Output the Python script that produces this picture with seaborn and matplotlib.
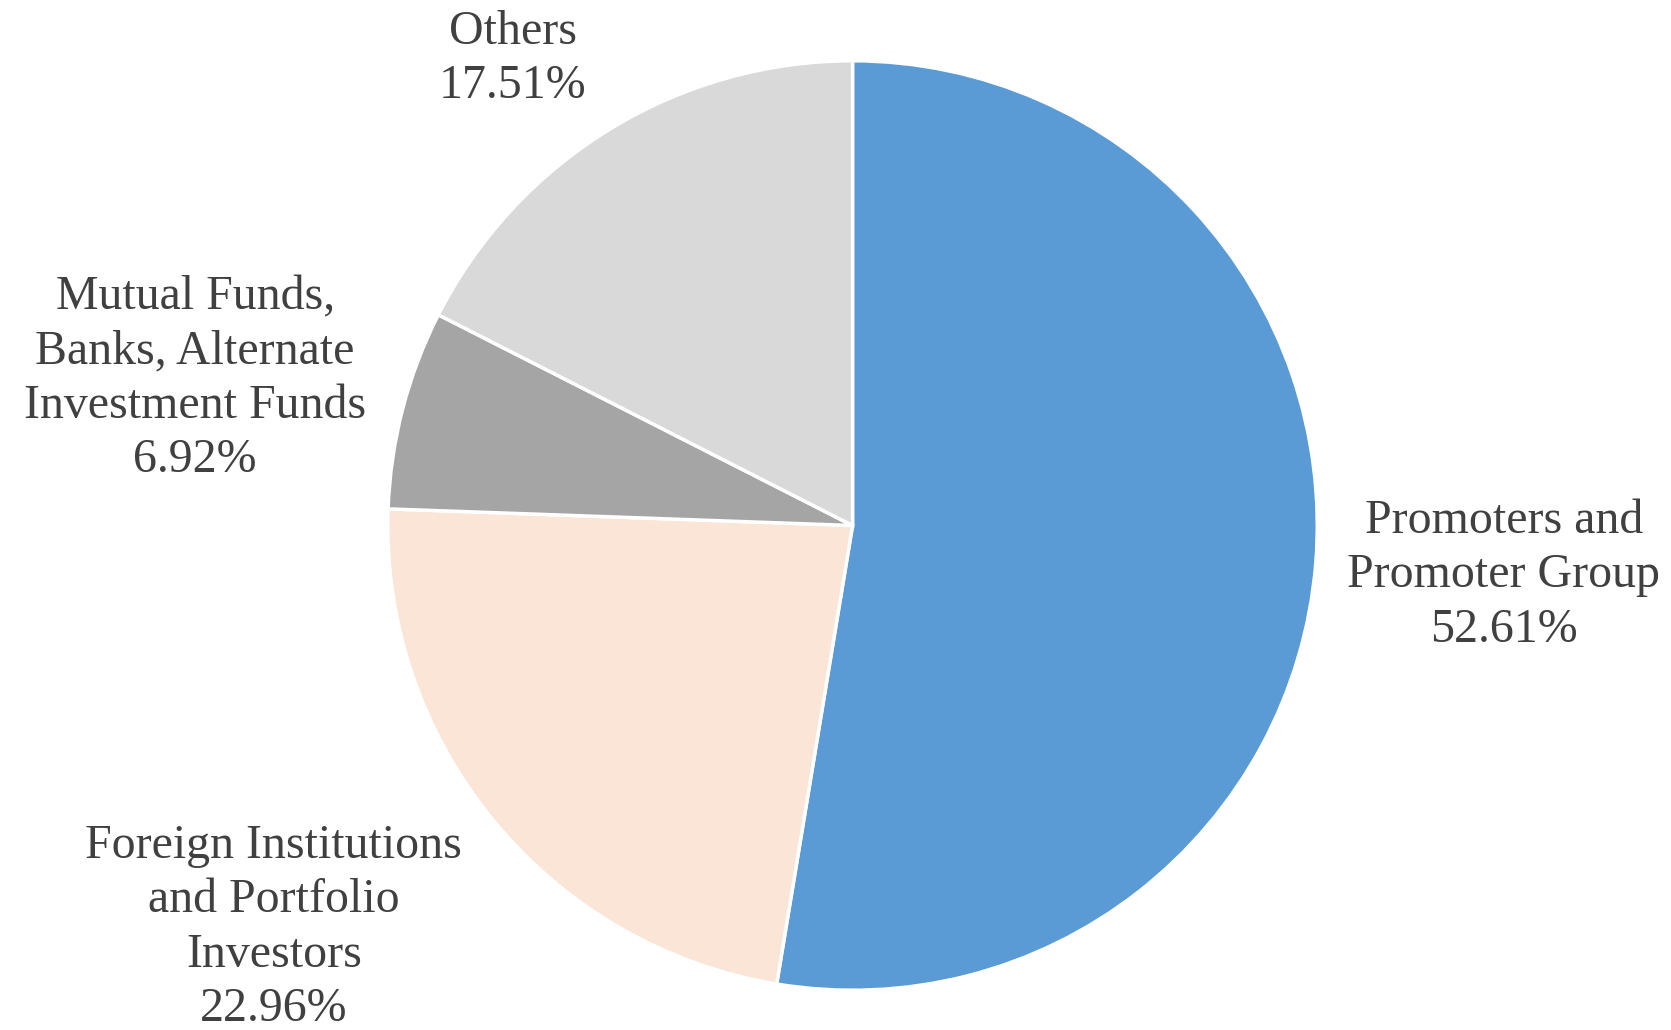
import matplotlib
matplotlib.use("Agg")
import matplotlib.pyplot as plt
import seaborn as sns

categories = ["Promoters and\nPromoter Group",
              "Foreign Institutions\nand Portfolio\nInvestors",
              "Mutual Funds,\nBanks, Alternate\nInvestment Funds",
              "Others"]
values = [52.61, 22.96, 6.92, 17.51]
colors = ["#5B9BD5", "#FBE5D6", "#A5A5A5", "#D9D9D9"]
label_pos = [(1.41, -0.108), (-1.253, -0.870), (-1.423, 0.318), (-0.736, 1.010)]

sns.set_theme(style="white")
plt.rcParams['font.family'] = ['Liberation Serif', 'DejaVu Serif']

fig = plt.figure(figsize=(16.71, 10.30), dpi=100)
ax = fig.add_axes([0.2337, 0.0413, 0.553, 0.897])
wedges, _ = ax.pie(values, colors=colors, startangle=90, counterclock=False,
                   wedgeprops=dict(edgecolor="white", linewidth=2.5), radius=1.006)
for cat, v, (x, y) in zip(categories, values, label_pos):
    ax.text(x, y, f"{cat}\n{v:.2f}%", ha="center", va="center",
            fontsize=34.5, color="#404040", linespacing=1.3)
ax.set_xlim(-1, 1)
ax.set_ylim(-1, 1)
ax.set_aspect("equal")
ax.axis("off")
fig.savefig("out.png", dpi=100)
